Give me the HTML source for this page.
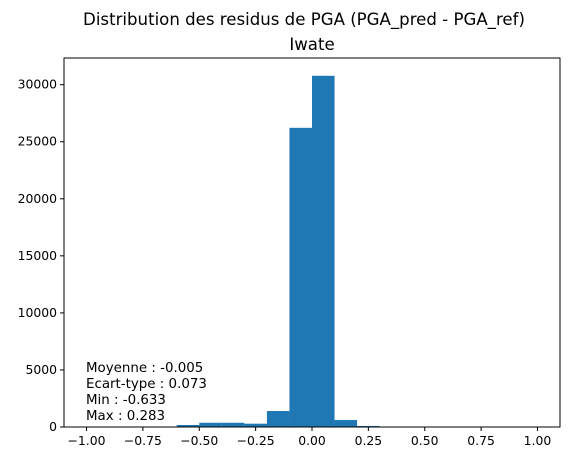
<!DOCTYPE html>
<html><head><meta charset="utf-8"><style>
body{margin:0;background:#fff;font-family:"Liberation Sans","DejaVu Sans",sans-serif}
</style></head><body>
<svg width="573" height="461" xmlns="http://www.w3.org/2000/svg" font-family="DejaVu Sans, Liberation Sans, sans-serif">
<text x="304" y="25" font-size="16.6" text-anchor="middle">Distribution des residus de PGA (PGA_pred - PGA_ref)</text>
<text x="312" y="50" font-size="16.6" text-anchor="middle">Iwate</text>
<g id="bars"></g>
<g id="axes"></g>
<g font-size="13.4">
<text x="86" y="372">Moyenne : -0.005</text>
<text x="86" y="388">Ecart-type : 0.073</text>
<text x="86" y="404">Min : -0.633</text>
<text x="86" y="420">Max : 0.283</text>
</g>
</svg>
<script>
const binEdgesStart = [-0.6,-0.5,-0.4,-0.3,-0.2,-0.1,0.0,0.1,0.2];
const binCounts = [175,370,370,290,1400,26220,30780,610,90];
const binWidth = 0.1;
const xTicks = [-1,-0.75,-0.5,-0.25,0,0.25,0.5,0.75,1];
const yTicks = [0,5000,10000,15000,20000,25000,30000];
const L=64,R=560,T=58,B=427;
const x0=-1.1,x1=1.1,yMax=32340;
const sx=v=>L+(v-x0)/(x1-x0)*(R-L);
const sy=v=>B-v/yMax*(B-T);
const NS="http://www.w3.org/2000/svg";
const bars=document.getElementById('bars'),axes=document.getElementById('axes');
binCounts.forEach((c,i)=>{
 const r=document.createElementNS(NS,'rect');
 const a=sx(binEdgesStart[i]),b=sx(binEdgesStart[i]+binWidth);
 r.setAttribute('x',a);r.setAttribute('width',b-a);
 r.setAttribute('y',sy(c));r.setAttribute('height',B-sy(c));
 r.setAttribute('fill','#1f77b4');
 
 
 bars.appendChild(r);
});
const frame=document.createElementNS(NS,'rect');
frame.setAttribute('x',L);frame.setAttribute('y',T);frame.setAttribute('width',R-L);frame.setAttribute('height',B-T);
frame.setAttribute('fill','none');frame.setAttribute('stroke','#000');frame.setAttribute('stroke-width','1');


axes.appendChild(frame);
xTicks.forEach(v=>{
 const l=document.createElementNS(NS,'line');
 l.setAttribute('x1',sx(v));l.setAttribute('x2',sx(v));l.setAttribute('y1',B);l.setAttribute('y2',B+4);l.setAttribute('stroke','#000');
 
 
 axes.appendChild(l);
 const t=document.createElementNS(NS,'text');
 t.setAttribute('x',sx(v));t.setAttribute('y',B+18);t.setAttribute('font-size','12.4');t.setAttribute('text-anchor','middle');
 t.textContent=(v<0?'\u2212':'')+Math.abs(v).toFixed(2);
 
 
 axes.appendChild(t);
});
yTicks.forEach(v=>{
 const l=document.createElementNS(NS,'line');
 l.setAttribute('x1',L-4);l.setAttribute('x2',L);l.setAttribute('y1',sy(v));l.setAttribute('y2',sy(v));l.setAttribute('stroke','#000');
 
 
 axes.appendChild(l);
 const t=document.createElementNS(NS,'text');
 t.setAttribute('x',L-7);t.setAttribute('y',sy(v)+4);t.setAttribute('font-size','12.4');t.setAttribute('text-anchor','end');
 t.textContent=v;
 
 
 axes.appendChild(t);
});
</script>
</body></html>
